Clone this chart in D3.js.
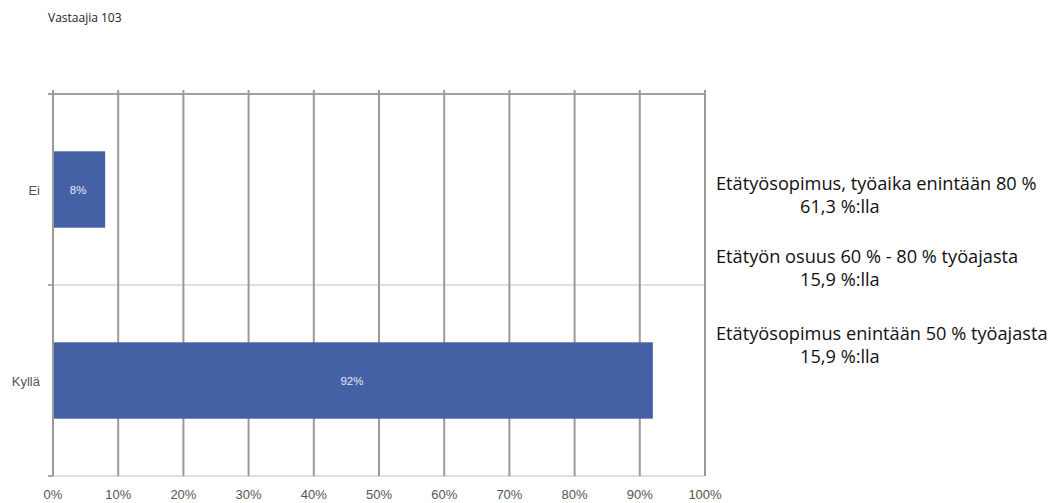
<!DOCTYPE html>
<html>
<head>
<meta charset="utf-8">
<script src="https://cdn.jsdelivr.net/npm/d3@7"></script>
<style>
  body { margin: 0; background: #fff; }
  svg { display: block; }
</style>
</head>
<body>
<div id="chart"></div>
<script>
// data
var categories = ["Ei", "Kyllä"];
var values = [8, 92];
var xTicks = [0, 10, 20, 30, 40, 50, 60, 70, 80, 90, 100];
var respondents = "Vastaajia 103";
var notes = [
  ["Etätyösopimus, työaika enintään 80 %", "61,3 %:lla"],
  ["Etätyön osuus 60 % - 80 % työajasta", "15,9 %:lla"],
  ["Etätyösopimus enintään 50 % työajasta", "15,9 %:lla"]
];

var width = 1054, height = 503;
var margin = {left: 53, right: 349, top: 94, bottom: 27};

var svg = d3.select("#chart").append("svg")
  .attr("width", width)
  .attr("height", height);

var x = d3.scaleLinear()
  .domain([0, 100])
  .range([margin.left, width - margin.right]);

var y = d3.scaleBand()
  .domain(categories)
  .range([margin.top, height - margin.bottom])
  .paddingInner(0.6)
  .paddingOuter(0.3);

// band separators (light horizontal lines)
var bandEdges = [margin.top, (margin.top + height - margin.bottom) / 2, height - margin.bottom];
svg.selectAll("line.hsep")
  .data(bandEdges.slice(1))
  .enter().append("line")
  .attr("class", "hsep")
  .attr("x1", margin.left - 5)
  .attr("x2", x(100))
  .attr("y1", function(d) { return d; })
  .attr("y2", function(d) { return d; })
  .attr("stroke", "#e0e0e0")
  .attr("stroke-width", 2);

// left tick marks
svg.selectAll("line.ltick")
  .data(bandEdges)
  .enter().append("line")
  .attr("x1", margin.left - 5)
  .attr("x2", margin.left)
  .attr("y1", function(d) { return d; })
  .attr("y2", function(d) { return d; })
  .attr("stroke", "#999")
  .attr("stroke-width", 1.5);

// top border
svg.append("line")
  .attr("x1", margin.left - 5)
  .attr("x2", x(100) + 1)
  .attr("y1", margin.top)
  .attr("y2", margin.top)
  .attr("stroke", "#a0a0a0")
  .attr("stroke-width", 2);

// vertical gridlines
svg.selectAll("line.vgrid")
  .data(xTicks)
  .enter().append("line")
  .attr("class", "vgrid")
  .attr("x1", function(d) { return x(d); })
  .attr("x2", function(d) { return x(d); })
  .attr("y1", margin.top - 4)
  .attr("y2", height - margin.bottom)
  .attr("stroke", "#9a9a9a")
  .attr("stroke-width", 2);

// bars
svg.selectAll("rect.bar")
  .data(values)
  .enter().append("rect")
  .attr("class", "bar")
  .attr("x", x(0) + 1)
  .attr("y", function(d, i) { return y(categories[i]); })
  .attr("width", function(d) { return x(d) - x(0) - 1; })
  .attr("height", y.bandwidth())
  .attr("fill", "#4461a5");

// bar labels
svg.selectAll("text.blabel")
  .data(values)
  .enter().append("text")
  .attr("x", function(d) { return (x(0) + x(d)) / 2 - 1; })
  .attr("y", function(d, i) { return y(categories[i]) + y.bandwidth() / 2 + 4; })
  .attr("text-anchor", "middle")
  .attr("font-family", "Liberation Sans, Arial, sans-serif")
  .attr("font-size", 11.5)
  .attr("fill", "#e4e8f4")
  .text(function(d) { return d + "%"; });

// category labels
svg.selectAll("text.clabel")
  .data(categories)
  .enter().append("text")
  .attr("x", margin.left - 13)
  .attr("y", function(d) { return y(d) + y.bandwidth() / 2 + 5; })
  .attr("text-anchor", "end")
  .attr("font-family", "Liberation Sans, Arial, sans-serif")
  .attr("font-size", 13)
  .attr("fill", "#555")
  .text(function(d) { return d; });

// x tick labels
svg.selectAll("text.xlabel")
  .data(xTicks)
  .enter().append("text")
  .attr("x", function(d) { return x(d); })
  .attr("y", height - 4)
  .attr("text-anchor", "middle")
  .attr("font-family", "Liberation Sans, Arial, sans-serif")
  .attr("font-size", 13)
  .attr("fill", "#555")
  .text(function(d) { return d + "%"; });

// respondents
svg.append("text")
  .attr("x", 48)
  .attr("y", 22)
  .attr("font-family", "Open Sans, sans-serif")
  .attr("font-size", 12)
  .attr("fill", "#222")
  .text(respondents);

// notes on the right
var noteY = [190, 263, 340];
notes.forEach(function(n, i) {
  svg.append("text")
    .attr("x", 716)
    .attr("y", noteY[i])
    .attr("font-family", "Open Sans, sans-serif")
    .attr("font-size", 18.2)
    .attr("fill", "#111")
    .text(n[0]);
  svg.append("text")
    .attr("x", 800)
    .attr("y", noteY[i] + 23)
    .attr("font-family", "Open Sans, sans-serif")
    .attr("font-size", 18.2)
    .attr("fill", "#111")
    .text(n[1]);
});
</script>
</body>
</html>
